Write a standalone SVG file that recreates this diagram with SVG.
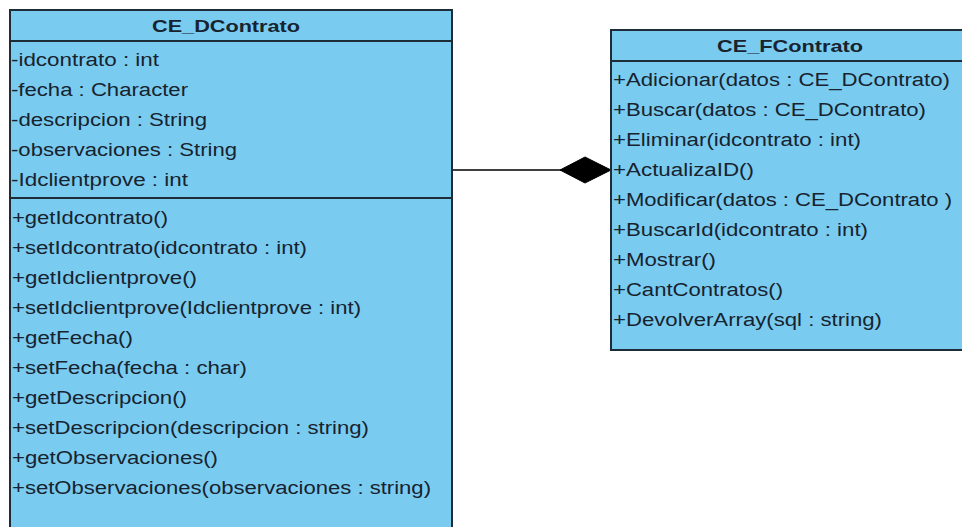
<svg xmlns="http://www.w3.org/2000/svg" width="962" height="527" viewBox="0 0 962 527">
<style>
.box{fill:#7acbf0;stroke:#1e2c38;stroke-width:2}
.sep{stroke:#1e2c38;stroke-width:2}
.t{font-family:"Liberation Sans",Arial,sans-serif;font-size:18px;fill:#17232e}
.h{font-family:"Liberation Sans",Arial,sans-serif;font-size:17px;font-weight:bold;fill:#17232e}
</style>
<rect width="962" height="527" fill="#ffffff"/>
<g id="connectors">
<line x1="452" y1="170" x2="562" y2="170" stroke="#000" stroke-width="1.5"/>
<polygon points="560,170 585,157 611,170 585,183" fill="#000" stroke="#000" stroke-width="1" stroke-linejoin="round"/>
</g>
<g id="CE_DContrato">
<rect class="box" x="10" y="10" width="442" height="530"/>
<line class="sep" x1="10" y1="41" x2="452" y2="41"/>
<line class="sep" x1="10" y1="198" x2="452" y2="198"/>
<text class="h" x="152" y="32" textLength="148" lengthAdjust="spacingAndGlyphs">CE_DContrato</text>
<text class="t" x="11" y="66" textLength="148" lengthAdjust="spacingAndGlyphs">-idcontrato : int</text>
<text class="t" x="11" y="96" textLength="177" lengthAdjust="spacingAndGlyphs">-fecha : Character</text>
<text class="t" x="11" y="126" textLength="196" lengthAdjust="spacingAndGlyphs">-descripcion : String</text>
<text class="t" x="11" y="156" textLength="226" lengthAdjust="spacingAndGlyphs">-observaciones : String</text>
<text class="t" x="11" y="186" textLength="177" lengthAdjust="spacingAndGlyphs">-Idclientprove : int</text>
<text class="t" x="12" y="224" textLength="156" lengthAdjust="spacingAndGlyphs">+getIdcontrato()</text>
<text class="t" x="12" y="254" textLength="295" lengthAdjust="spacingAndGlyphs">+setIdcontrato(idcontrato : int)</text>
<text class="t" x="12" y="284" textLength="185" lengthAdjust="spacingAndGlyphs">+getIdclientprove()</text>
<text class="t" x="12" y="314" textLength="349" lengthAdjust="spacingAndGlyphs">+setIdclientprove(Idclientprove : int)</text>
<text class="t" x="12" y="344" textLength="121" lengthAdjust="spacingAndGlyphs">+getFecha()</text>
<text class="t" x="12" y="374" textLength="235" lengthAdjust="spacingAndGlyphs">+setFecha(fecha : char)</text>
<text class="t" x="12" y="404" textLength="175" lengthAdjust="spacingAndGlyphs">+getDescripcion()</text>
<text class="t" x="12" y="434" textLength="357" lengthAdjust="spacingAndGlyphs">+setDescripcion(descripcion : string)</text>
<text class="t" x="12" y="464" textLength="206" lengthAdjust="spacingAndGlyphs">+getObservaciones()</text>
<text class="t" x="12" y="494" textLength="419" lengthAdjust="spacingAndGlyphs">+setObservaciones(observaciones : string)</text>
</g>
<g id="CE_FContrato">
<rect class="box" x="611" y="30" width="360" height="320"/>
<line class="sep" x1="611" y1="61" x2="971" y2="61"/>
<text class="h" x="717" y="52" textLength="146" lengthAdjust="spacingAndGlyphs">CE_FContrato</text>
<text class="t" x="613" y="86" textLength="337" lengthAdjust="spacingAndGlyphs">+Adicionar(datos : CE_DContrato)</text>
<text class="t" x="613" y="116" textLength="313" lengthAdjust="spacingAndGlyphs">+Buscar(datos : CE_DContrato)</text>
<text class="t" x="613" y="146" textLength="248" lengthAdjust="spacingAndGlyphs">+Eliminar(idcontrato : int)</text>
<text class="t" x="613" y="176" textLength="141" lengthAdjust="spacingAndGlyphs">+ActualizaID()</text>
<text class="t" x="613" y="206" textLength="339" lengthAdjust="spacingAndGlyphs">+Modificar(datos : CE_DContrato )</text>
<text class="t" x="613" y="236" textLength="255" lengthAdjust="spacingAndGlyphs">+BuscarId(idcontrato : int)</text>
<text class="t" x="613" y="266" textLength="103" lengthAdjust="spacingAndGlyphs">+Mostrar()</text>
<text class="t" x="613" y="296" textLength="170" lengthAdjust="spacingAndGlyphs">+CantContratos()</text>
<text class="t" x="613" y="326" textLength="269" lengthAdjust="spacingAndGlyphs">+DevolverArray(sql : string)</text>
</g>
</svg>
